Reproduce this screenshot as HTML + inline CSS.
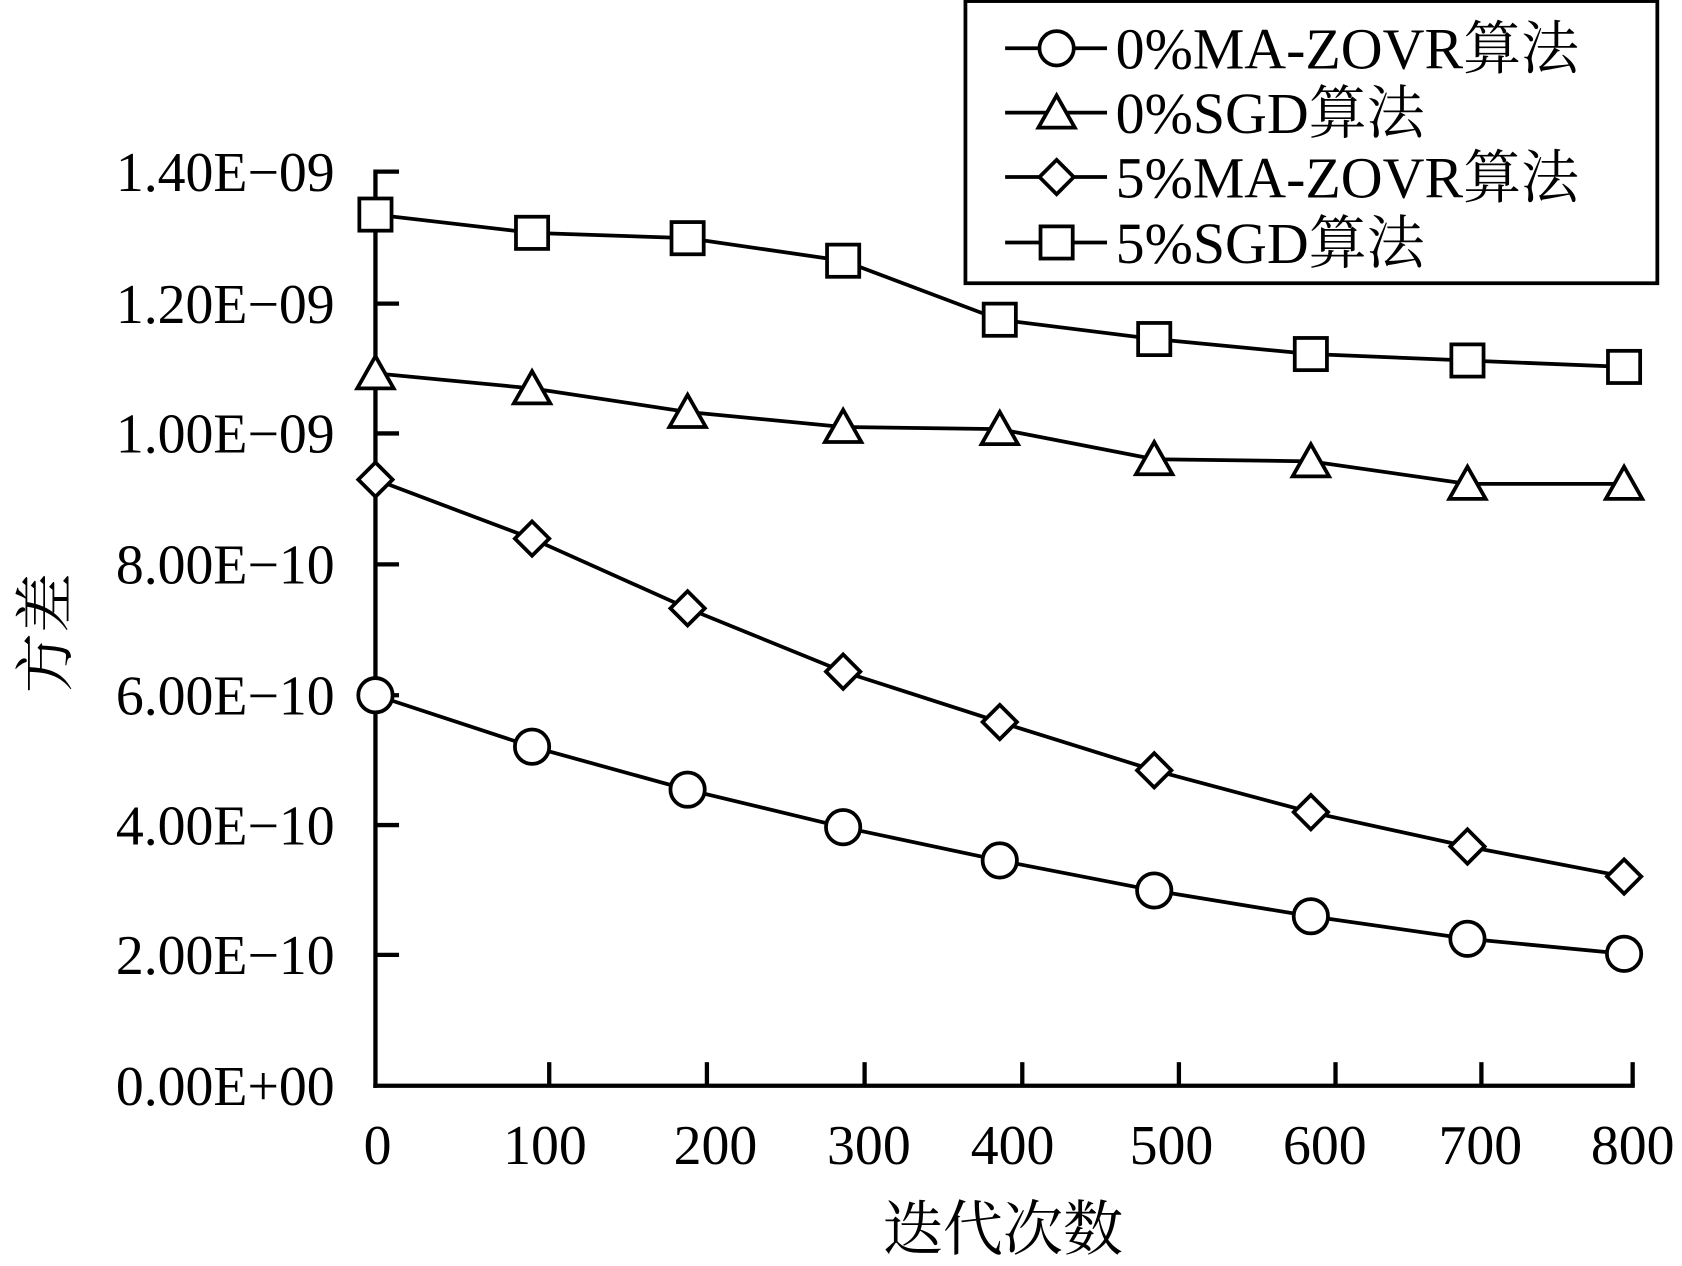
<!DOCTYPE html>
<html><head><meta charset="utf-8"><style>html,body{margin:0;padding:0;background:#fff}svg{display:block}</style></head>
<body>
<svg width="1682" height="1266" viewBox="0 0 1568 1180" preserveAspectRatio="none" xmlns="http://www.w3.org/2000/svg">
<g font-family="'Liberation Serif','Noto Serif CJK SC',serif" fill="#000">
<g stroke="#000" stroke-width="4" fill="none">
<line x1="350" y1="158" x2="350" y2="1014"/>
<line x1="348" y1="1012" x2="1524" y2="1012"/>
<line x1="350" y1="160" x2="372" y2="160"/>
<line x1="350" y1="283" x2="372" y2="283"/>
<line x1="350" y1="404" x2="372" y2="404"/>
<line x1="350" y1="526" x2="372" y2="526"/>
<line x1="350" y1="648" x2="372" y2="648"/>
<line x1="350" y1="769" x2="372" y2="769"/>
<line x1="350" y1="890" x2="372" y2="890"/>
<line x1="512" y1="1012" x2="512" y2="990"/>
<line x1="659" y1="1012" x2="659" y2="990"/>
<line x1="806" y1="1012" x2="806" y2="990"/>
<line x1="953" y1="1012" x2="953" y2="990"/>
<line x1="1099" y1="1012" x2="1099" y2="990"/>
<line x1="1245" y1="1012" x2="1245" y2="990"/>
<line x1="1381" y1="1012" x2="1381" y2="990"/>
<line x1="1522" y1="1012" x2="1522" y2="990"/>
</g>
<g font-size="52" text-anchor="end">
<text x="312" y="178">1.40E−09</text>
<text x="312" y="301">1.20E−09</text>
<text x="312" y="422">1.00E−09</text>
<text x="312" y="544">8.00E−10</text>
<text x="312" y="666">6.00E−10</text>
<text x="312" y="787">4.00E−10</text>
<text x="312" y="908">2.00E−10</text>
<text x="312" y="1030">0.00E+00</text>
</g>
<g font-size="52" text-anchor="middle">
<text x="352" y="1085">0</text><text x="508" y="1085">100</text><text x="667" y="1085">200</text>
<text x="810" y="1085">300</text><text x="944" y="1085">400</text><text x="1092" y="1085">500</text>
<text x="1235" y="1085">600</text><text x="1380" y="1085">700</text><text x="1522" y="1085">800</text>
</g>
<text x="935" y="1165" font-size="56" text-anchor="middle">迭代次数</text>
<text transform="translate(62,590) rotate(-90)" font-size="56" text-anchor="middle">方差</text>
<g stroke="#000" stroke-width="3.5" fill="#fff">
<polyline fill="none" points="350,648 496,696 641,736 786,771 932,802 1076,830 1222,854 1368,875 1514,889"/>
<polyline fill="none" points="350,348 496,362 641,384 786,398 932,400 1076,428 1222,430 1368,451 1514,451"/>
<polyline fill="none" points="350,447 496,502 641,567 786,626 932,673 1076,718 1222,757 1368,789 1514,817"/>
<polyline fill="none" points="350,200 496,217 641,222 786,243 932,298 1076,316 1222,330 1368,336 1514,342"/>
<g><circle cx="350" cy="648" r="16"/><circle cx="496" cy="696" r="16"/><circle cx="641" cy="736" r="16"/><circle cx="786" cy="771" r="16"/><circle cx="932" cy="802" r="16"/><circle cx="1076" cy="830" r="16"/><circle cx="1222" cy="854" r="16"/><circle cx="1368" cy="875" r="16"/><circle cx="1514" cy="889" r="16"/></g>
<g>
<path d="M350,332 l17,30 h-34z"/><path d="M496,346 l17,30 h-34z"/><path d="M641,368 l17,30 h-34z"/><path d="M786,382 l17,30 h-34z"/><path d="M932,384 l17,30 h-34z"/><path d="M1076,412 l17,30 h-34z"/><path d="M1222,414 l17,30 h-34z"/><path d="M1368,435 l17,30 h-34z"/><path d="M1514,435 l17,30 h-34z"/>
</g>
<g>
<path d="M350,431 l16,16 -16,16 -16,-16z"/><path d="M496,486 l16,16 -16,16 -16,-16z"/><path d="M641,551 l16,16 -16,16 -16,-16z"/><path d="M786,610 l16,16 -16,16 -16,-16z"/><path d="M932,657 l16,16 -16,16 -16,-16z"/><path d="M1076,702 l16,16 -16,16 -16,-16z"/><path d="M1222,741 l16,16 -16,16 -16,-16z"/><path d="M1368,773 l16,16 -16,16 -16,-16z"/><path d="M1514,801 l16,16 -16,16 -16,-16z"/>
</g>
<g>
<rect x="335" y="185" width="30" height="30"/><rect x="481" y="202" width="30" height="30"/><rect x="626" y="207" width="30" height="30"/><rect x="771" y="228" width="30" height="30"/><rect x="917" y="283" width="30" height="30"/><rect x="1061" y="301" width="30" height="30"/><rect x="1207" y="315" width="30" height="30"/><rect x="1353" y="321" width="30" height="30"/><rect x="1499" y="327" width="30" height="30"/>
</g>
<rect x="900" y="1" width="645" height="263" fill="#fff"/>
<line x1="937" y1="45" x2="1032" y2="45"/><circle cx="985" cy="45" r="16"/>
<line x1="937" y1="105" x2="1032" y2="105"/><path d="M985,89 l17,30 h-34z"/>
<line x1="937" y1="165" x2="1032" y2="165"/><path d="M985,149 l16,16 -16,16 -16,-16z"/>
<line x1="937" y1="226" x2="1032" y2="226"/><rect x="970" y="211" width="30" height="30"/>
</g>
<g font-size="54">
<text x="1040" y="64">0%MA-ZOVR算法</text>
<text x="1040" y="124">0%SGD算法</text>
<text x="1040" y="184">5%MA-ZOVR算法</text>
<text x="1040" y="245">5%SGD算法</text>
</g>
</g>
</svg>
</body></html>
